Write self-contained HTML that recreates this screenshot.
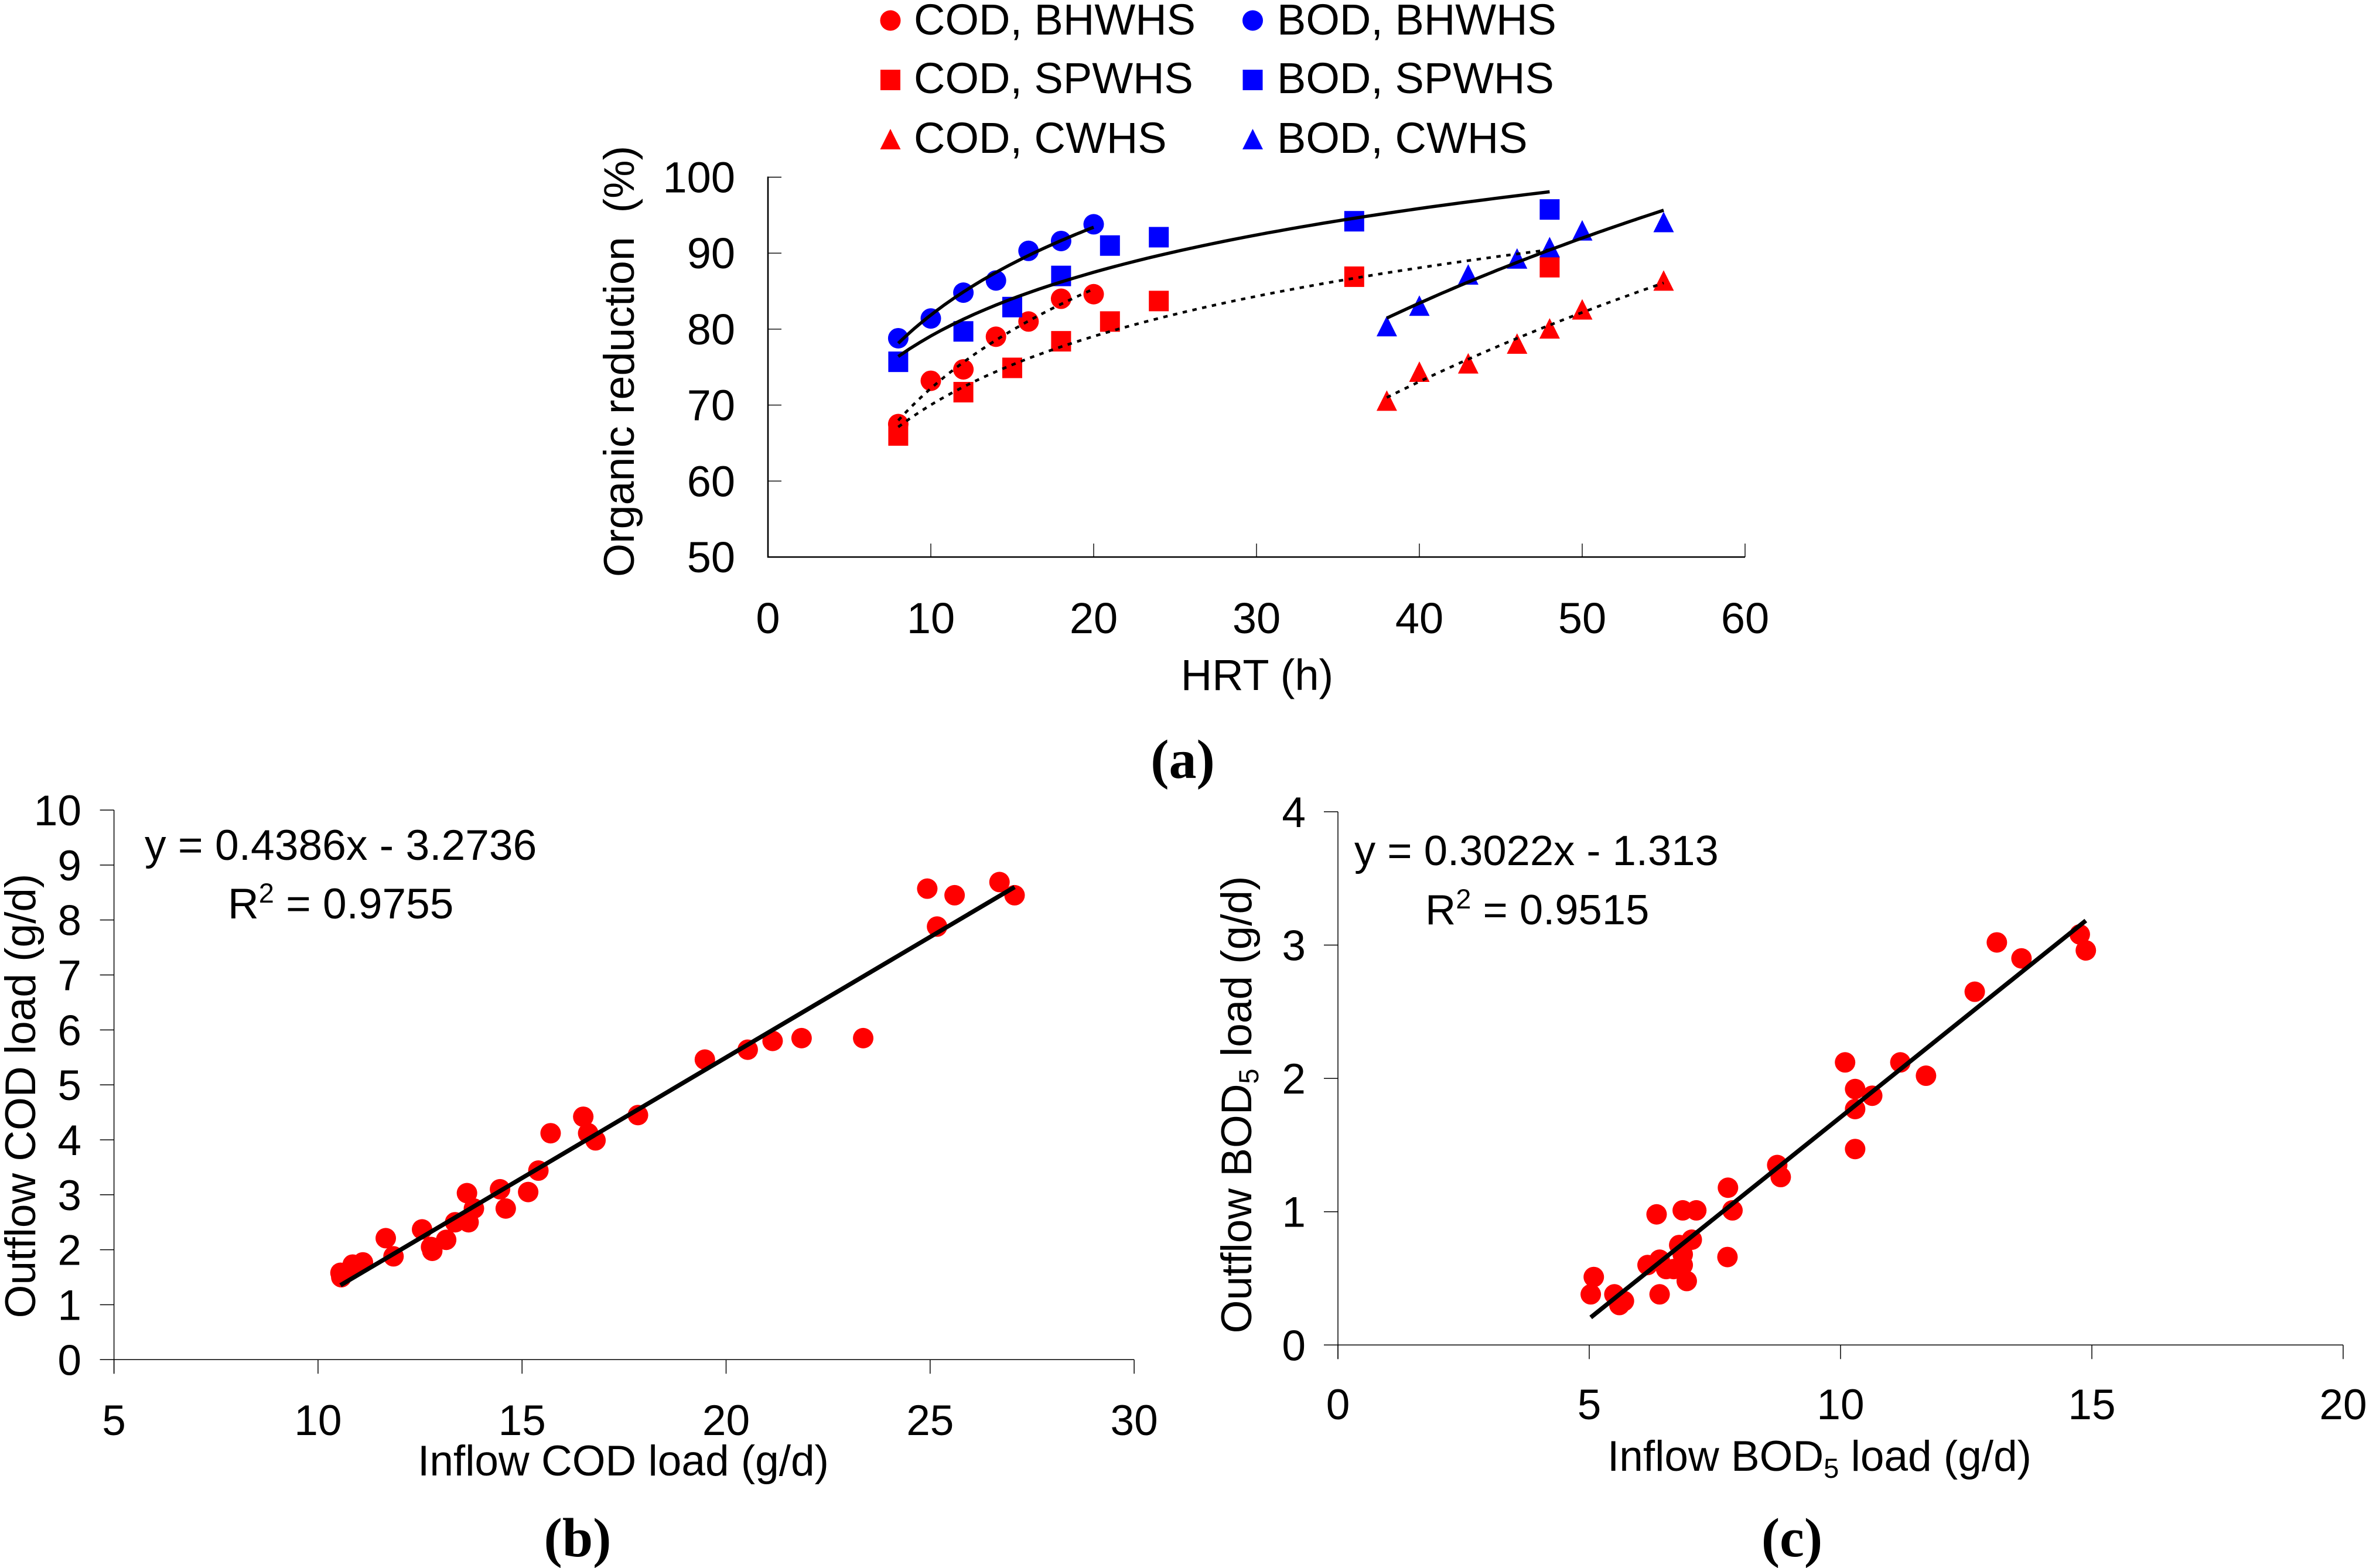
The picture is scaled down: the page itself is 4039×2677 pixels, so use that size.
<!DOCTYPE html>
<html lang="en">
<head>
<meta charset="utf-8">
<title>Organic reduction and load charts</title>
<style>
html,body{margin:0;padding:0;background:#fff;}
svg{display:block;}
text{font-family:"Liberation Sans",Arial,sans-serif;font-size:73px;fill:#000;white-space:pre;}
.cap{font-family:"Liberation Serif","Times New Roman",serif;font-size:94px;font-weight:bold;}
.t74{font-size:74px;}
.t736{font-size:73.6px;}
.t725{font-size:72.4px;}
.t733{font-size:73.2px;}
</style>
</head>
<body>
<svg id="root" xmlns="http://www.w3.org/2000/svg" width="4039" height="2677" viewBox="0 0 4039 2677">
  <rect x="0" y="0" width="4039" height="2677" fill="#fff"/>

  <g>
    <g><ellipse cx="1520" cy="35" rx="17.5" ry="17.5" fill="#f00"/><text class="t74" x="1560" y="59">COD, BHWHS</text></g>
    <g><ellipse cx="2138.5" cy="35" rx="17.5" ry="17.5" fill="#00f"/><text class="t74" x="2180" y="59">BOD, BHWHS</text></g>
    <g><rect x="1503" y="119" width="34" height="35" fill="#f00"/><text class="t74" x="1560" y="159">COD, SPWHS</text></g>
    <g><rect x="2121.5" y="119" width="34" height="35" fill="#00f"/><text class="t74" x="2180" y="159">BOD, SPWHS</text></g>
    <g><polygon points="1520,220 1537.5,255 1502.5,255" fill="#f00"/><text class="t74" x="1560" y="261">COD, CWHS</text></g>
    <g><polygon points="2138.5,220 2156,255 2121,255" fill="#00f"/><text class="t74" x="2180" y="261">BOD, CWHS</text></g>
  </g>

  <text class="t736" text-anchor="middle" transform="translate(1082 617) rotate(-90)">Organic reduction  (%)</text>
  <text class="t74" text-anchor="middle" x="2146" y="1178">HRT (h)</text>
  <text class="cap" text-anchor="middle" x="2019" y="1328">(a)</text>

  <text text-anchor="middle" transform="translate(60 1871) rotate(-90)">Outflow COD load (g/d)</text>
  <text text-anchor="middle" x="1064" y="2519">Inflow COD load (g/d)</text>
  <text class="t733" x="247" y="1468">y = 0.4386x - 3.2736</text>
  <text x="389" y="1568">R<tspan dy="-27" style="font-size:47px">2</tspan><tspan dy="27"> = 0.9755</tspan></text>
  <text class="cap" text-anchor="middle" x="986" y="2657">(b)</text>

  <text text-anchor="middle" transform="translate(2136 1886) rotate(-90)">Outflow BOD<tspan style="font-size:47px" dy="12">5</tspan><tspan dy="-12"> load (g/d)</tspan></text>
  <text text-anchor="middle" x="3106" y="2511">Inflow BOD<tspan style="font-size:47px" dy="12">5</tspan><tspan dy="-12"> load (g/d)</tspan></text>
  <text class="t725" x="2312" y="1477">y = 0.3022x - 1.313</text>
  <text class="t725" x="2433" y="1578">R<tspan style="font-size:47px" dy="-27">2</tspan><tspan dy="27"> = 0.9515</tspan></text>
  <text class="cap" text-anchor="middle" x="3059" y="2657">(c)</text>

  <g id="plots"></g>
</svg>

<script>
// Panel (a): HRT (h) vs organic reduction (%)
const aXTicks = [0, 10, 20, 30, 40, 50, 60];
const aYTicks = [50, 60, 70, 80, 90, 100];
const codBhwhsX = [8, 10, 12, 14, 16, 18, 20];
const codBhwhsY = [67.5, 73.2, 74.7, 79, 81, 84, 84.6];
const bodBhwhsX = [8, 10, 12, 14, 16, 18, 20];
const bodBhwhsY = [78.8, 81.4, 84.8, 86.4, 90.3, 91.6, 93.8];
const codSpwhsX = [8, 12, 15, 18, 21, 24, 36, 48];
const codSpwhsY = [66, 71.7, 74.9, 78.4, 81, 83.7, 86.9, 88.15];
const bodSpwhsX = [8, 12, 15, 18, 21, 24, 36, 48];
const bodSpwhsY = [75.7, 79.7, 82.9, 87, 91, 92.1, 94.2, 95.75];
const codCwhsX = [38, 40, 43, 46, 48, 50, 55];
const codCwhsY = [70.6, 74.4, 75.5, 78.1, 80.1, 82.6, 86.4];
const bodCwhsX = [38, 40, 43, 46, 48, 50, 55];
const bodCwhsY = [80.4, 83.1, 87.2, 89.3, 90.8, 93, 94.1];

// Panel (b): inflow vs outflow COD load
const bXTicks = [5, 10, 15, 20, 25, 30];
const bYTicks = [0, 1, 2, 3, 4, 5, 6, 7, 8, 9, 10];
const bInflow = [10.55, 10.57, 10.85, 10.9, 11.1, 11.66, 11.85, 12.55, 12.77, 12.8, 13.14, 13.36, 13.65, 13.69, 13.82, 14.46, 14.6, 15.15, 15.4, 15.7, 16.5, 16.62, 16.8, 17.84, 19.48, 20.53, 21.14, 21.85, 23.36, 24.93, 25.17, 25.6, 26.7, 27.07];
const bOutflow = [1.58, 1.5, 1.73, 1.68, 1.77, 2.21, 1.88, 2.37, 2.05, 1.98, 2.18, 2.5, 3.03, 2.5, 2.75, 3.1, 2.75, 3.05, 3.44, 4.12, 4.42, 4.12, 3.99, 4.45, 5.46, 5.64, 5.8, 5.85, 5.85, 8.57, 7.88, 8.45, 8.69, 8.45];
const bSlope = 0.4386;
const bIntercept = -3.2736;

// Panel (c): inflow vs outflow BOD5 load
const cXTicks = [0, 5, 10, 15, 20];
const cYTicks = [0, 1, 2, 3, 4];
const cInflow = [5.03, 5.09, 5.5, 5.6, 5.69, 6.16, 6.34, 6.4, 6.4, 6.53, 6.68, 6.79, 6.86, 6.86, 6.86, 6.94, 7.04, 7.13, 7.76, 7.75, 7.85, 8.74, 8.81, 10.09, 10.29, 10.29, 10.29, 10.63, 11.19, 11.7, 12.67, 13.11, 13.6, 14.76, 14.88];
const cOutflow = [0.38, 0.51, 0.38, 0.30, 0.33, 0.60, 0.98, 0.64, 0.38, 0.57, 0.57, 0.75, 1.01, 0.68, 0.60, 0.48, 0.79, 1.01, 1.18, 0.66, 1.01, 1.35, 1.26, 2.12, 1.92, 1.77, 1.47, 1.87, 2.12, 2.02, 2.65, 3.02, 2.9, 3.08, 2.96];
const cSlope = 0.3022;
const cIntercept = -1.313;

const NS = 'http://www.w3.org/2000/svg';
const plots = document.getElementById('plots');

function mk(parent, tag, name) {
  const el = document.createElementNS(NS, tag);
  
  
  parent.appendChild(el);
  return el;
}

// Axis scales
const aX = v => 1311 + (v - 0) * 27.8;
const aY = v => 951 - (v - 50) * 12.97;
const bX = v => 194.6 + (v - 5) * 69.66;
const bY = v => 2321.3 - v * 93.83;
const cX = v => 2284 + v * 85.8;
const cY = v => 2296.3 - v * 227.6;

function line(parent, name, x1, y1, x2, y2, w) {
  const el = mk(parent, 'line', name);
  el.setAttribute('x1', x1);
  el.setAttribute('y1', y1);
  el.setAttribute('x2', x2);
  el.setAttribute('y2', y2);
  el.setAttribute('stroke', '#000');
  el.setAttribute('stroke-width', w);
  return el;
}

function label(parent, name, x, y, anchor, str) {
  const el = mk(parent, 'text', name);
  el.setAttribute('x', x);
  el.setAttribute('y', y);
  el.setAttribute('text-anchor', anchor);
  el.textContent = str;
  return el;
}

function marker(parent, name, shape, px, py, color) {
  const r = 17.5;
  let el;
  if (shape === 'circle') {
    el = mk(parent, 'circle', name);
    el.setAttribute('cx', px);
    el.setAttribute('cy', py);
    el.setAttribute('r', r);
  } else if (shape === 'square') {
    el = mk(parent, 'rect', name);
    el.setAttribute('x', px - 17);
    el.setAttribute('y', py - r);
    el.setAttribute('width', 34);
    el.setAttribute('height', 2 * r);
  } else {
    el = mk(parent, 'polygon', name);
    el.setAttribute('points', px + ',' + (py - r) + ' ' + (px + r) + ',' + (py + r) + ' ' + (px - r) + ',' + (py + r));
  }
  el.setAttribute('fill', color);
  return el;
}

// Logarithmic least-squares trendline through a series
function logTrend(parent, name, xs, ys, dotted) {
  const n = xs.length;
  let sl = 0, sy = 0, sll = 0, sly = 0;
  xs.forEach((x, i) => {
    const l = Math.log(x);
    sl += l; sy += ys[i]; sll += l * l; sly += l * ys[i];
  });
  const a = (n * sly - sl * sy) / (n * sll - sl * sl);
  const b = (sy - a * sl) / n;
  const xmin = Math.min(...xs), xmax = Math.max(...xs);
  const pts = [];
  for (let k = 0; k <= 60; k++) {
    const x = xmin + (xmax - xmin) * k / 60;
    pts.push(aX(x).toFixed(1) + ',' + aY(a * Math.log(x) + b).toFixed(1));
  }
  const el = mk(parent, 'polyline', name);
  el.setAttribute('points', pts.join(' '));
  el.setAttribute('fill', 'none');
  el.setAttribute('stroke', '#000');
  el.setAttribute('stroke-width', dotted ? 4.5 : 5.5);
  if (dotted) {
    el.setAttribute('stroke-dasharray', '7.5 9.5');
  }
}

// Panel (a)
const panelA = mk(plots, 'g', 'chart-organic-reduction');
line(panelA, 'y-axis-a', aX(0), aY(100) - 1, aX(0), aY(50) + 1, 2.6);
line(panelA, 'x-axis-a', aX(0) - 1, aY(50), aX(60), aY(50), 2.6);
aYTicks.forEach(v => {
  line(panelA, 'y-tick-a', aX(0), aY(v), aX(0) + 23, aY(v), 1.4);
  const t = label(panelA, 'y-tick-label-a', 1255, aY(v) + 26, 'end', String(v));
  t.setAttribute('class', 't74');
});
aXTicks.forEach(v => {
  line(panelA, 'x-tick-a', aX(v), aY(50), aX(v), aY(50) - 23, 1.4);
  const t = label(panelA, 'x-tick-label-a', aX(v), 1081, 'middle', String(v));
  t.setAttribute('class', 't74');
});
const aSeries = [
  ['cod-bhwhs', 'circle', '#f00', codBhwhsX, codBhwhsY, true],
  ['cod-spwhs', 'square', '#f00', codSpwhsX, codSpwhsY, true],
  ['cod-cwhs', 'triangle', '#f00', codCwhsX, codCwhsY, true],
  ['bod-bhwhs', 'circle', '#00f', bodBhwhsX, bodBhwhsY, false],
  ['bod-spwhs', 'square', '#00f', bodSpwhsX, bodSpwhsY, false],
  ['bod-cwhs', 'triangle', '#00f', bodCwhsX, bodCwhsY, false]
];
aSeries.forEach(s => {
  s[3].forEach((x, i) => {
    marker(panelA, 'point-' + s[0], s[1], aX(x), aY(s[4][i]), s[2]);
  });
});
aSeries.forEach(s => {
  logTrend(panelA, 'trendline-' + s[0], s[3], s[4], s[5]);
});

// Panel (b)
const panelB = mk(plots, 'g', 'chart-cod-load');
line(panelB, 'y-axis-b', bX(5), bY(10), bX(5), bY(0) + 24, 1.5);
line(panelB, 'x-axis-b', bX(5) - 24, bY(0), bX(30), bY(0), 1.5);
bYTicks.forEach(v => {
  line(panelB, 'y-tick-b', bX(5) - 24, bY(v), bX(5), bY(v), 1.5);
  label(panelB, 'y-tick-label-b', 139, bY(v) + 26, 'end', String(v));
});
bXTicks.forEach(v => {
  line(panelB, 'x-tick-b', bX(v), bY(0), bX(v), bY(0) + 24, 1.5);
  label(panelB, 'x-tick-label-b', bX(v), 2450, 'middle', String(v));
});
bInflow.forEach((x, i) => {
  marker(panelB, 'point-cod-load', 'circle', bX(x), bY(bOutflow[i]), '#f00');
});
{
  const x0 = Math.min(...bInflow), x1 = Math.max(...bInflow);
  line(panelB, 'regression-line-b', bX(x0), bY(bSlope * x0 + bIntercept), bX(x1), bY(bSlope * x1 + bIntercept), 7.5);
}

// Panel (c)
const panelC = mk(plots, 'g', 'chart-bod-load');
line(panelC, 'y-axis-c', cX(0), cY(4), cX(0), cY(0) + 24, 1.5);
line(panelC, 'x-axis-c', cX(0) - 24, cY(0), cX(20), cY(0), 1.5);
cYTicks.forEach(v => {
  line(panelC, 'y-tick-c', cX(0) - 24, cY(v), cX(0), cY(v), 1.5);
  label(panelC, 'y-tick-label-c', 2229, cY(v) + 26, 'end', String(v));
});
cXTicks.forEach(v => {
  line(panelC, 'x-tick-c', cX(v), cY(0), cX(v), cY(0) + 24, 1.5);
  label(panelC, 'x-tick-label-c', cX(v), 2423, 'middle', String(v));
});
cInflow.forEach((x, i) => {
  marker(panelC, 'point-bod-load', 'circle', cX(x), cY(cOutflow[i]), '#f00');
});
{
  const x0 = Math.min(...cInflow), x1 = Math.max(...cInflow);
  line(panelC, 'regression-line-c', cX(x0), cY(cSlope * x0 + cIntercept), cX(x1), cY(cSlope * x1 + cIntercept), 7.5);
}
</script>
</body>
</html>
